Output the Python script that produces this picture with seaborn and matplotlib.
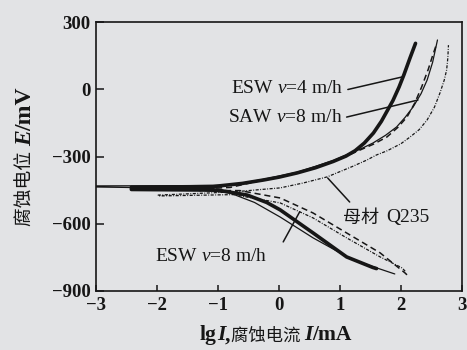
#!/usr/bin/env python3
'''
Polarization curves: ESW / SAW weld metal vs base metal Q235
'''

import matplotlib
matplotlib.use('Agg')
import matplotlib.pyplot as plt
import pandas as pd
import seaborn as sns

# ESW v=4 m/h (thick solid)
esw4_lgi = [1.60, 1.54, 1.11, 0.56, 0.02, -0.20, -0.52, -1.00, -2.42, -2.42, -1.08, -0.60, -0.26,
            0.00, 0.30, 0.60, 0.89, 1.10, 1.25, 1.40, 1.55, 1.68, 1.87, 1.97, 2.05, 2.15, 2.24]
esw4_e = [-800, -795, -748, -641, -538, -505, -472, -450, -447, -437, -434, -420, -405,
          -392, -373, -350, -322, -298, -274, -240, -195, -143, -50, 10, 65, 140, 205]

# SAW v=8 m/h (thin solid)
saw8_lgi = [1.90, 1.80, 1.21, 0.56, 0.02, -0.40, -0.80, -1.50, -3.00, -3.00, -1.50, -0.80, -0.26,
            0.30, 0.89, 1.11, 1.35, 1.54, 1.75, 1.93, 2.07, 2.20, 2.33, 2.43, 2.52, 2.60]
saw8_e = [-824, -815, -761, -663, -570, -505, -463, -442, -436, -431, -430, -428, -402,
          -370, -318, -292, -265, -240, -205, -168, -125, -79, -20, 41, 120, 220]

# ESW v=8 m/h (dashed)
esw8_lgi = [2.10, 2.07, 1.66, 1.11, 0.56, 0.02, -0.64, -1.30, -1.30, -0.80, -0.26, 0.30,
            0.95, 1.15, 1.33, 1.55, 1.77, 1.95, 2.10, 2.23, 2.34, 2.45, 2.52, 2.59]
esw8_e = [-828, -820, -730, -641, -552, -485, -452, -452, -444, -438, -405, -373,
          -316, -293, -271, -245, -213, -170, -124, -60, 10, 90, 150, 206]

# base metal Q235 (dash-dot)
q235_lgi = [2.07, 2.02, 1.66, 1.11, 0.56, 0.02, -0.75, -1.98, -1.98, -0.75, -0.20, 0.02, 0.40,
            0.79, 1.20, 1.44, 1.60, 1.77, 2.00, 2.15, 2.30, 2.43, 2.55, 2.64, 2.71, 2.75, 2.77, 2.78]
q235_e = [-812, -797, -748, -663, -574, -507, -470, -476, -472, -458, -445, -440, -418,
          -391, -345, -316, -293, -275, -243, -213, -180, -137, -80, -17, 40, 86, 140, 197]

x_ticks = [-3, -2, -1, 0, 1, 2, 3]
y_ticks = [-900, -600, -300, 0, 300]

BG = '#e2e3e5'
INK = '#161616'
LATIN = 'Liberation Serif'
CJK = 'Noto Sans CJK SC'


def main():
    sns.set_theme(style='ticks')
    plt.rcParams['font.family'] = [LATIN, CJK]
    plt.rcParams['mathtext.fontset'] = 'custom'
    plt.rcParams['mathtext.rm'] = LATIN
    plt.rcParams['mathtext.it'] = LATIN + ':italic'

    fig = plt.figure(figsize=(4.67, 3.5), dpi=100, facecolor=BG)
    ax = fig.add_axes([0.2056, 0.1686, 0.7834, 0.7684], facecolor=BG)

    curves = [
        (esw4_lgi, esw4_e, 2.6, '-'),
        (saw8_lgi, saw8_e, 0.9, '-'),
        (esw8_lgi, esw8_e, 1.1, (0, (4, 2.5))),
        (q235_lgi, q235_e, 0.9, (0, (2.5, 1.2, 0.7, 1.2))),
    ]
    for lgi, e, lw, ls in curves:
        df = pd.DataFrame({'lgI': lgi, 'E': e})
        sns.lineplot(data=df, x='lgI', y='E', sort=False, estimator=None,
                     ax=ax, color=INK, lw=lw, linestyle=ls)

    ax.set_xlim(-3, 3)
    ax.set_ylim(-900, 300)
    ax.set_xticks(x_ticks)
    ax.set_yticks(y_ticks)
    ax.set_xticklabels([f'{v}'.replace('-', '\u2212') for v in x_ticks])
    ax.set_yticklabels([f'{v}'.replace('-', '\u2212') for v in y_ticks])
    ax.tick_params(axis='both', direction='in', colors=INK, width=1.1,
                   labelsize=13.5)
    ax.tick_params(axis='y', length=6, pad=4)
    ax.tick_params(axis='x', length=4, pad=4)
    for lab in ax.get_xticklabels() + ax.get_yticklabels():
        lab.set_fontweight('bold')
        lab.set_family(LATIN)
    for sp in ax.spines.values():
        sp.set_color(INK)
        sp.set_linewidth(1.2)
    ax.set_xlabel('')
    ax.set_ylabel('')

    # curve labels with leader lines
    lbl = dict(fontsize=14, color=INK, va='center', family=LATIN)
    ax.text(1.05, 5, 'ESW $v$=4 m/h', ha='right', **lbl)
    ax.text(1.05, -124, 'SAW $v$=8 m/h', ha='right', **lbl)
    ax.text(-2.03, -748, 'ESW $v$=8 m/h', ha='left', **lbl)
    base = ax.text(1.05, -574, '母材', ha='left', va='center', family=CJK,
                   fontsize=13, color=INK)
    ax.annotate('Q235', xy=(1, 0.5), xycoords=base, xytext=(5, 0),
                textcoords='offset points', ha='left', **lbl)

    leaders = [((1.13, -1), (2.02, 55)),
               ((1.11, -124), (2.28, -48)),
               ((1.16, -503), (0.80, -396)),
               ((0.07, -681), (0.34, -547))]
    for start, end in leaders:
        ax.annotate('', xy=end, xytext=start,
                    arrowprops=dict(arrowstyle='-', lw=1.1, color=INK,
                                    shrinkA=0, shrinkB=0))

    # axis labels built from pieces (roman / italic / CJK)
    xl = [('lg', LATIN, 'normal', 15.5), ('I', LATIN, 'italic', 15.5),
          (',', LATIN, 'normal', 15.5), ('腐蚀电流 ', CJK, 'normal', 12.5),
          ('I', LATIN, 'italic', 15.5), ('/mA', LATIN, 'normal', 15.5)]
    prev = None
    for s, fam, sty, fs in xl:
        kw = dict(family=fam, style=sty, fontsize=fs, color=INK,
                  fontweight='bold' if fam == LATIN else 'normal')
        if prev is None:
            prev = fig.text(0.428, 0.014, s, ha='left', va='bottom', **kw)
        else:
            prev = ax.annotate(s, xy=(1, 0), xycoords=prev, ha='left',
                               va='bottom', **kw)

    yl = [('腐蚀电位 ', CJK, 'normal', 13.5), ('E', LATIN, 'italic', 17),
          ('/mV', LATIN, 'normal', 17)]
    prev = None
    for s, fam, sty, fs in yl:
        kw = dict(family=fam, style=sty, fontsize=fs, color=INK, rotation=90,
                  fontweight='bold' if fam == LATIN else 'normal')
        if prev is None:
            prev = fig.text(0.032, 0.355, s, ha='left', va='bottom', **kw)
        else:
            prev = ax.annotate(s, xy=(0, 1), xycoords=prev, ha='left',
                               va='bottom', **kw)

    fig.savefig('out.png', dpi=100, facecolor=BG)


if __name__ == '__main__':
    main()
